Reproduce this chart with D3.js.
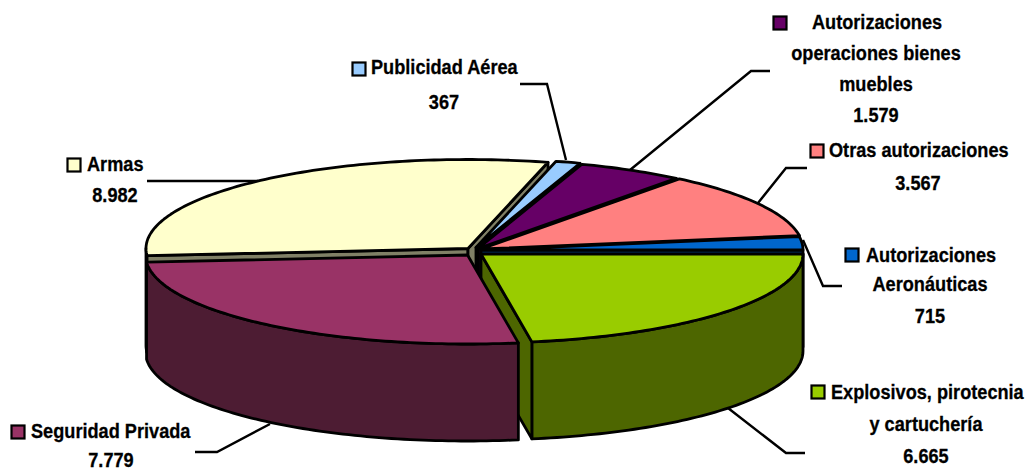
<!DOCTYPE html>
<html><head><meta charset="utf-8">
<script src="https://cdn.jsdelivr.net/npm/d3@7"></script>
<style>html,body{margin:0;background:#fff}svg{display:block}text{font-family:"Liberation Sans",Arial,sans-serif;font-weight:bold;font-size:21px;fill:#000;stroke:#000;stroke-width:.3}</style>
</head><body><svg id="c" width="1026" height="471"></svg>
<script>
const categories=["Explosivos, pirotecnia y cartuchería","Seguridad Privada","Armas","Publicidad Aérea","Autorizaciones operaciones bienes muebles","Otras autorizaciones","Autorizaciones Aeronáuticas"];
const values=[6665,7779,8982,367,1579,3567,715];
const valueLabels=["6.665","7.779","8.982","367","1.579","3.567","715"];
const topColors=["#99cc00","#993366","#ffffcc","#99ccff","#660066","#ff8080","#0066cc"];
const wallColors=["#4d6600","#4d1c33","#808066","#4d6680","#330033","#804040","#003366"];
const apexes=[[481,254],[467.5,255],[468,248.5],[476,247.5],[478,248.5],[481,249],[481,250]];
const paintOrder=[2,3,4,5,6,0,1];
const rx=322,ry=89,depth=97;
const textScale=0.865;
const labelLayouts=[
 {key:[818,392],lines:[["Explosivos, pirotecnia",831,392,"start"],["y cartuchería",926,424,"middle"],["6.665",926,456,"middle"]],leader:[[728,408],[786,453],[805,453]]},
 {key:[18,432],lines:[["Seguridad Privada",31,431,"start"],["7.779",111,460,"middle"]],leader:[[270,424],[217,452],[195,452]]},
 {key:[74,165],lines:[["Armas",87,164,"start"],["8.982",115,195,"middle"]],leader:[[147,181],[258,181]]},
 {key:[359,69],lines:[["Publicidad Aérea",371,67,"start"],["367",444,102,"middle"]],leader:[[520,84],[547,84],[566,160]]},
 {key:[780,23],lines:[["Autorizaciones",877,22,"middle"],["operaciones bienes",876,53,"middle"],["muebles",876,84,"middle"],["1.579",876,115,"middle"]],leader:[[770,71],[751,71],[630,170]]},
 {key:[817,151],lines:[["Otras autorizaciones",829,150,"start"],["3.567",918,183,"middle"]],leader:[[807,168],[786,168],[758,203]]},
 {key:[852,255],lines:[["Autorizaciones",866,255,"start"],["Aeronáuticas",930,284,"middle"],["715",930,316,"middle"]],leader:[[803,240],[823,286],[842,286]]}
];
const svg=d3.select("#c");
// d3.pie angles are clockwise from 12 o'clock; first slice starts at 3 o'clock
const arcs=d3.pie().sort(null).startAngle(Math.PI/2).endAngle(Math.PI/2+2*Math.PI)(values);
const toT=a=>a-Math.PI/2;
const line=d3.line();
const pt=(i,t,dz=0)=>[apexes[i][0]+rx*Math.cos(t),apexes[i][1]+ry*Math.sin(t)+dz];
const samples=(a,b)=>{const n=Math.max(2,Math.ceil((b-a)/0.02));return d3.range(n+1).map(k=>a+(b-a)*k/n)};
const stroke={stroke:"#000","stroke-width":2.8,"stroke-linejoin":"round"};
function draw(d,fill){const p=svg.append("path").attr("d",d).attr("fill",fill);for(const k in stroke)p.attr(k,stroke[k]);return p}
labelLayouts.forEach(l=>{svg.append("path").attr("d",line(l.leader)).attr("fill","none").attr("stroke","#000").attr("stroke-width",2.4)});
paintOrder.forEach(i=>{
 const a0=toT(arcs[i].startAngle),a1=toT(arcs[i].endAngle),A=apexes[i];
 const wall=[Math.max(a0,0),Math.min(a1,Math.PI)];
 if(wall[1]>wall[0]){const s=samples(wall[0],wall[1]);
  draw(line(s.map(t=>pt(i,t)).concat(s.slice().reverse().map(t=>pt(i,t,depth))))+"Z",wallColors[i]);}
 if(Math.cos(a0)<0){const e=pt(i,a0);draw(line([A,e,[e[0],e[1]+depth],[A[0],A[1]+depth]])+"Z",wallColors[i]);}
 if(Math.cos(a1)>0){const e=pt(i,a1);draw(line([A,e,[e[0],e[1]+depth],[A[0],A[1]+depth]])+"Z",wallColors[i]);}
 draw(line([A].concat(samples(a0,a1).map(t=>pt(i,t))))+"Z",topColors[i]);
});
labelLayouts.forEach((l,i)=>{
 svg.append("rect").attr("x",l.key[0]-6.5).attr("y",l.key[1]-6.5).attr("width",13).attr("height",13).attr("fill",topColors[i]).attr("stroke","#000").attr("stroke-width",2.2);
 l.lines.forEach(([s,x,y,an])=>svg.append("text").attr("transform",`translate(${x},${y}) scale(${textScale},1)`).attr("dy","0.32em").attr("text-anchor",an).text(s));
});
</script></body></html>
